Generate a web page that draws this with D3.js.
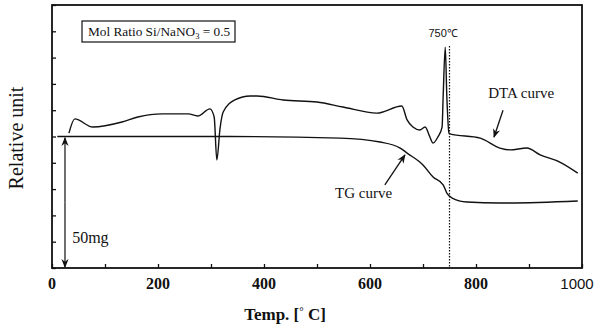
<!DOCTYPE html>
<html>
<head>
<meta charset="utf-8">
<script src="https://cdn.jsdelivr.net/npm/d3@7"></script>
<style>
  body { margin: 0; background: #fff; }
  svg { display: block; }
</style>
</head>
<body>
<svg id="chart"></svg>
<script>
// tick labels on the temperature axis
const xTickLabels = [0, 200, 400, 600, 800, 1000];
const xMinorTicks = [100, 300, 500, 700, 900];
const yTicks = [0, 1, 2, 3, 4, 5, 6, 7, 8, 9, 10];

// DTA curve, temperature [C] and relative unit
const dtaTemp = [32, 43, 77, 132, 162, 208, 257, 275, 298, 306, 311, 317, 323, 345, 374, 387, 436, 500, 549, 613, 660, 670, 681, 694, 704, 713, 719, 728, 736, 738, 742, 745, 749, 751, 808, 845, 864, 896, 921, 958, 992];
const dtaValue = [5.13, 5.67, 5.36, 5.55, 5.74, 5.86, 5.86, 5.78, 6.05, 5.74, 4.11, 5.3, 5.93, 6.39, 6.54, 6.54, 6.39, 6.31, 6.12, 5.89, 6.16, 5.63, 5.36, 5.25, 5.36, 4.98, 4.75, 4.98, 5.36, 6.5, 8.4, 6.5, 5.13, 5.1, 4.94, 4.56, 4.49, 4.56, 4.3, 4.03, 3.61];

// TG curve
const tgTemp = [10, 336, 543, 619, 657, 670, 700, 719, 738, 745, 755, 783, 845, 992];
const tgValue = [5.0, 5.0, 4.94, 4.79, 4.56, 4.37, 3.92, 3.46, 3.16, 2.85, 2.66, 2.51, 2.47, 2.55];

const width = 600;
const height = 328;
const plotLeft = 52, plotRight = 582, plotTop = 5, plotBottom = 268;

const svg = d3.select("#chart")
    .attr("width", width)
    .attr("height", height);

const x = d3.scaleLinear().domain([0, 1000]).range([plotLeft, plotRight]);
const y = d3.scaleLinear().domain([0, 10]).range([plotBottom, plotTop]);

const serif = "'Liberation Serif', 'DejaVu Serif', serif";
const sans = "'Liberation Sans', Arial, sans-serif";

// arrow head
svg.append("defs").append("marker")
    .attr("id", "head")
    .attr("viewBox", "0 0 10 10")
    .attr("refX", 9).attr("refY", 5)
    .attr("markerWidth", 9).attr("markerHeight", 9)
    .attr("markerUnits", "userSpaceOnUse")
    .attr("orient", "auto")
    .append("path")
    .attr("d", "M0,1 L10,5 L0,9 L3,5 Z")
    .attr("fill", "#111");

// frame
svg.append("rect")
    .attr("x", plotLeft).attr("y", plotTop)
    .attr("width", plotRight - plotLeft).attr("height", plotBottom - plotTop)
    .attr("fill", "none")
    .attr("stroke", "#111")
    .attr("stroke-width", 1.8);

// ticks (inward)
svg.append("g")
    .attr("transform", `translate(0,${plotBottom})`)
    .call(d3.axisBottom(x).tickValues(xMinorTicks.concat(xTickLabels)).tickSize(-4).tickFormat(""))
    .call(g => g.select(".domain").remove())
    .selectAll("line").attr("stroke", "#111").attr("stroke-width", 1.3);

svg.append("g")
    .attr("transform", `translate(${plotLeft},0)`)
    .call(d3.axisLeft(y).tickValues(yTicks).tickSize(-4).tickFormat(""))
    .call(g => g.select(".domain").remove())
    .selectAll("line").attr("stroke", "#111").attr("stroke-width", 1.3);

// tick labels
svg.append("g").selectAll("text")
    .data(xTickLabels)
    .enter()
    .append("text")
    .attr("x", d => x(d) + (d === 1000 ? -5 : 0))
    .attr("y", 289)
    .attr("text-anchor", "middle")
    .attr("font-family", d => d === 1000 ? sans : serif)
    .attr("font-weight", d => d === 1000 ? "normal" : "bold")
    .attr("font-size", d => d === 1000 ? 15 : 16)
    .attr("fill", "#111")
    .text(d => d);

// axis titles
const xt = svg.append("text")
    .attr("x", 285).attr("y", 320)
    .attr("text-anchor", "middle")
    .attr("font-family", serif)
    .attr("font-weight", "bold")
    .attr("font-size", 17)
    .attr("fill", "#111");
xt.append("tspan").text("Temp. [");
xt.append("tspan").attr("font-size", 11).attr("dy", -5).text("°");
xt.append("tspan").attr("dy", 5).text(" C]");

svg.append("text")
    .attr("transform", "translate(23,138) rotate(-90)")
    .attr("text-anchor", "middle")
    .attr("font-family", serif)
    .attr("font-size", 20)
    .attr("fill", "#111")
    .text("Relative unit");

// curves
const line = d3.line()
    .x(d => x(d[0]))
    .y(d => y(d[1]))
    .curve(d3.curveMonotoneX);

svg.append("path")
    .datum(dtaTemp.map((t, i) => [t, dtaValue[i]]))
    .attr("d", line)
    .attr("fill", "none")
    .attr("stroke", "#111")
    .attr("stroke-width", 1.4);

svg.append("path")
    .datum(tgTemp.map((t, i) => [t, tgValue[i]]))
    .attr("d", line)
    .attr("fill", "none")
    .attr("stroke", "#111")
    .attr("stroke-width", 1.4);

// 750 C marker
svg.append("line")
    .attr("x1", x(750)).attr("x2", x(750))
    .attr("y1", y(8.44)).attr("y2", plotBottom)
    .attr("stroke", "#111")
    .attr("stroke-width", 1.2)
    .attr("stroke-dasharray", "1.5,1.5");

svg.append("text")
    .attr("x", x(738)).attr("y", 37)
    .attr("text-anchor", "middle")
    .attr("font-family", sans)
    .attr("font-size", 11)
    .attr("fill", "#111")
    .text("750℃");

// legend box
svg.append("rect")
    .attr("x", 82).attr("y", 21)
    .attr("width", 153).attr("height", 21)
    .attr("fill", "#fff")
    .attr("stroke", "#111")
    .attr("stroke-width", 1.2);

const lt = svg.append("text")
    .attr("x", 88).attr("y", 36)
    .attr("font-family", serif)
    .attr("font-size", 13.3)
    .attr("fill", "#111");
lt.append("tspan").text("Mol Ratio Si/NaNO");
lt.append("tspan").attr("font-size", 8.5).attr("dy", 3).text("3");
lt.append("tspan").attr("dy", -3).text(" = 0.5");

// annotations
svg.append("text")
    .attr("x", x(823)).attr("y", y(6.46))
    .attr("font-family", serif)
    .attr("font-size", 15)
    .attr("fill", "#111")
    .text("DTA curve");

svg.append("line")
    .attr("x1", x(851)).attr("y1", y(6.0))
    .attr("x2", x(834)).attr("y2", y(4.98))
    .attr("stroke", "#111").attr("stroke-width", 1.3)
    .attr("marker-end", "url(#head)");

svg.append("text")
    .attr("x", x(534)).attr("y", y(2.66))
    .attr("font-family", serif)
    .attr("font-size", 15)
    .attr("fill", "#111")
    .text("TG curve");

svg.append("line")
    .attr("x1", x(628)).attr("y1", y(3.16))
    .attr("x2", x(666)).attr("y2", y(4.3))
    .attr("stroke", "#111").attr("stroke-width", 1.3)
    .attr("marker-end", "url(#head)");

// 50mg scale arrow
svg.append("line")
    .attr("x1", x(24.5)).attr("y1", y(2.5))
    .attr("x2", x(24.5)).attr("y2", y(4.95))
    .attr("stroke", "#111").attr("stroke-width", 1.2)
    .attr("marker-end", "url(#head)");
svg.append("line")
    .attr("x1", x(24.5)).attr("y1", y(2.5))
    .attr("x2", x(24.5)).attr("y2", y(0.03))
    .attr("stroke", "#111").attr("stroke-width", 1.2)
    .attr("marker-end", "url(#head)");

svg.append("text")
    .attr("x", x(38)).attr("y", y(0.95))
    .attr("font-family", serif)
    .attr("font-size", 16)
    .attr("fill", "#111")
    .text("50mg");
</script>
</body>
</html>
